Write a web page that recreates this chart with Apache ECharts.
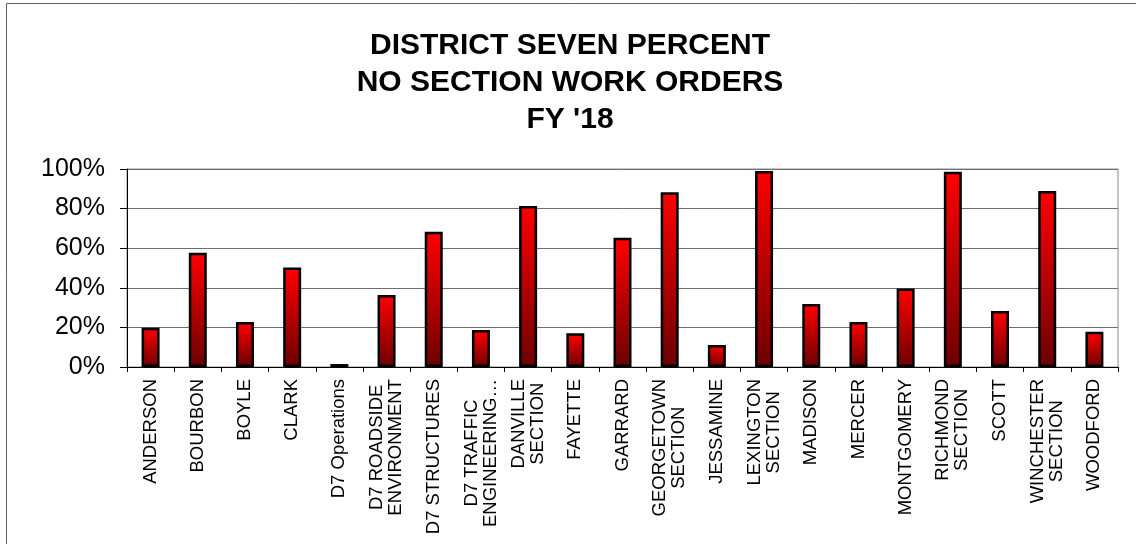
<!DOCTYPE html>
<html>
<head>
<meta charset="utf-8">
<script src="https://cdn.jsdelivr.net/npm/echarts@6/dist/echarts.min.js"></script>
<style>
    html, body { margin: 0; padding: 0; background: #ffffff; }
    #chart-box { width: 1136px; height: 544px; }
</style>
</head>
<body>
<div id="chart-box"></div>
<script>
// 各單位名稱 (換行 = 標籤第二行)
const categories = [
    'ANDERSON', 'BOURBON', 'BOYLE', 'CLARK', 'D7 Operations',
    'D7 ROADSIDE\nENVIRONMENT', 'D7 STRUCTURES', 'D7 TRAFFIC\nENGINEERING\u2026',
    'DANVILLE\nSECTION', 'FAYETTE', 'GARRARD', 'GEORGETOWN\nSECTION', 'JESSAMINE',
    'LEXINGTON\nSECTION', 'MADISON', 'MERCER', 'MONTGOMERY', 'RICHMOND\nSECTION',
    'SCOTT', 'WINCHESTER\nSECTION', 'WOODFORD'
];
// 無 section 工單比率 (%)
const percentValues = [
    19.8, 57.7, 22.7, 50.3, 1.5,
    36.4, 68.3, 18.7,
    81.3, 17.0, 65.3, 88.2, 11.1,
    99.0, 31.8, 22.7, 39.7, 98.6,
    28.3, 88.9, 17.8
];
const titleLines = ['DISTRICT SEVEN PERCENT', 'NO SECTION WORK ORDERS', "FY '18"];

mainChart();

function mainChart() {
    var chartDom = document.getElementById('chart-box');
    var myChart = echarts.init(chartDom);
    var option;

    option = {
        animation: false,
        textStyle: { fontFamily: 'Liberation Sans, Arial, sans-serif' },
        title: {
            text: titleLines.join('\n'),
            left: 565,
            textAlign: 'center',
            top: 22,
            textStyle: {
                fontSize: 30,
                fontWeight: 'bold',
                color: '#000000',
                lineHeight: 37,
                fontFamily: 'Liberation Sans, Arial, sans-serif'
            }
        },
        // 外框 (左、上)
        graphic: [
            {
                type: 'rect',
                shape: { x: 6.5, y: 3.5, width: 1200, height: 600 },
                style: { fill: 'none', stroke: '#606060', lineWidth: 1 },
                silent: true
            }
        ],
        grid: {
            left: 127,
            right: 18,
            top: 169,
            bottom: 177,
            show: true,
            borderColor: '#8c8c8c',
            borderWidth: 1,
            backgroundColor: 'transparent'
        },
        xAxis: {
            type: 'category',
            data: categories,
            axisLine: { lineStyle: { color: '#000000', width: 1 } },
            axisTick: {
                show: true,
                interval: 0,
                length: 5,
                lineStyle: { color: '#000000' }
            },
            axisLabel: {
                interval: 0,
                rotate: 90,
                margin: 12,
                color: '#000000',
                formatter: function (v) {
                    return v.split('\n').map(s => '{c|' + s + '}').join('\n');
                },
                rich: {
                    c: {
                        align: 'center',
                        fontSize: 18.5,
                        lineHeight: 19,
                        color: '#000000',
                        fontFamily: 'Liberation Sans, Arial, sans-serif'
                    }
                }
            }
        },
        yAxis: {
            type: 'value',
            min: 0,
            max: 100,
            interval: 20,
            axisLine: { show: true, lineStyle: { color: '#000000', width: 1 } },
            axisTick: { show: true, length: 7, lineStyle: { color: '#000000' } },
            axisLabel: {
                formatter: '{value}%',
                fontSize: 25,
                color: '#000000',
                margin: 22
            },
            splitLine: {
                lineStyle: { color: '#6e6e6e', width: 1 }
            }
        },
        series: [
            {
                type: 'bar',
                data: percentValues,
                barWidth: 18,
                itemStyle: {
                    borderColor: '#000000',
                    borderWidth: 2.5,
                    color: new echarts.graphic.LinearGradient(0, 0, 0, 1, [
                        { offset: 0, color: '#ff0000' },
                        { offset: 1, color: '#6c0000' }
                    ])
                }
            }
        ]
    };

    option && myChart.setOption(option);
}
</script>
</body>
</html>
